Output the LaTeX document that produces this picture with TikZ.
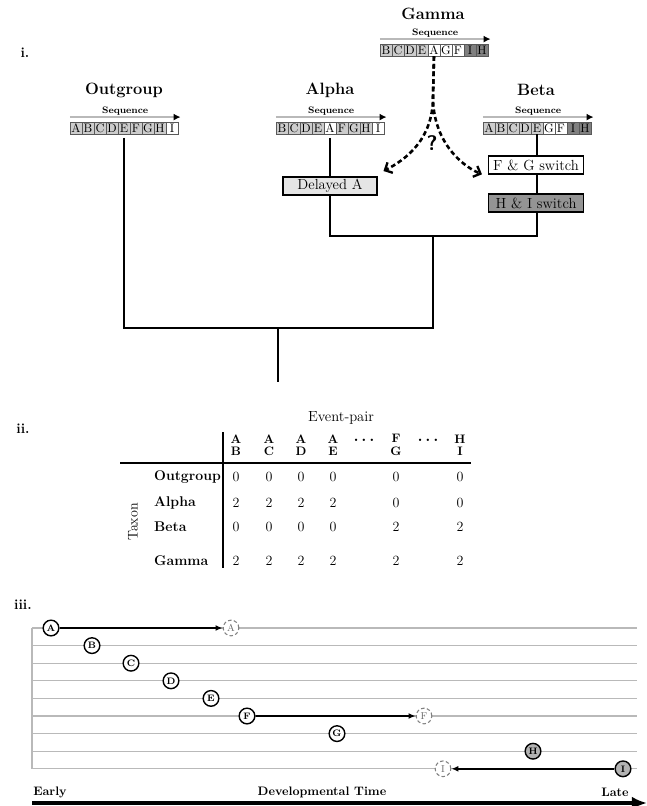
\documentclass[tikz,border=0pt]{standalone}
\usetikzlibrary{arrows.meta}
\definecolor{lightcell}{gray}{0.80}
\definecolor{darkcell}{gray}{0.50}
\definecolor{lightbox}{gray}{0.90}
\definecolor{darkbox}{gray}{0.58}
\tikzset{
    cell/.style={draw=black!65, inner sep=0pt, minimum width=0.36cm, minimum height=0.36cm, font=\fontsize{10.5}{10.5}\selectfont},
    title/.style={font=\fontsize{14}{14}\selectfont\bfseries},
    seqlabel/.style={font=\fontsize{8}{8}\selectfont\bfseries, inner sep=1pt},
    seqarrow/.style={draw=gray!55, line width=1.3pt, -{Latex[black,length=6pt,width=6pt]}},
    branch/.style={line width=2.4pt},
    event/.style={draw, line width=1.3pt, minimum width=2.85cm, minimum height=0.54cm, inner sep=1pt, font=\fontsize{12.5}{12.5}\selectfont},
    maybe/.style={line width=2.2pt, dash pattern=on 4pt off 2.5pt, -{Straight Barb[length=5pt,width=10pt,line width=2pt]}},
    panel/.style={font=\fontsize{12}{12}\selectfont\bfseries},
    colhead/.style={align=center, font=\fontsize{10.5}{10.5}\selectfont\bfseries},
    rowhead/.style={anchor=west, font=\fontsize{12}{12}\selectfont\bfseries},
    val/.style={font=\fontsize{12}{12}\selectfont},
    ev/.style={circle, draw, fill=white, line width=1.2pt, minimum size=0.47cm, inner sep=0pt, font=\fontsize{8}{8}\selectfont\bfseries},
    ghost/.style={ev, draw=gray, densely dashed, line width=0.9pt, text=gray!80!black, font=\fontsize{8.5}{8.5}\selectfont},
    late/.style={ev, fill=gray!60},
    timeline/.style={draw=gray!55, line width=1pt},
    moved/.style={line width=1.6pt, -{Latex[length=6pt,width=5pt]}},
    axis/.style={font=\fontsize{10.5}{10.5}\selectfont\bfseries}
}
\begin{document}
\begin{tikzpicture}[x=0.03cm, y=-0.03cm]
    \useasboundingbox (0,0) rectangle (647,806);

    % i. tree
    \node[panel] (p1) at (25,53) {i.};
    \node[title] (ogtitle) at (124,90) {Outgroup};
    \node[title] (altitle) at (330,90) {Alpha};
    \node[title] (betitle) at (536,90) {Beta};
    \node[title] (gatitle) at (433,14) {Gamma};

    \foreach \l/\f [count=\i] in {A/lightcell,B/lightcell,C/lightcell,D/lightcell,E/lightcell,F/lightcell,G/lightcell,H/lightcell,I/white}
        \node[cell, fill=\f] (og\i) at (64+12*\i,128) {\l};
    \foreach \l/\f [count=\i] in {B/lightcell,C/lightcell,D/lightcell,E/lightcell,A/white,F/lightcell,G/lightcell,H/lightcell,I/white}
        \node[cell, fill=\f] (al\i) at (270+12*\i,128) {\l};
    \foreach \l/\f [count=\i] in {A/lightcell,B/lightcell,C/lightcell,D/lightcell,E/lightcell,G/white,F/white,I/darkcell,H/darkcell}
        \node[cell, fill=\f] (be\i) at (477+12*\i,128) {\l};
    \foreach \l/\f [count=\i] in {B/lightcell,C/lightcell,D/lightcell,E/lightcell,A/white,G/white,F/white,I/darkcell,H/darkcell}
        \node[cell, fill=\f] (ga\i) at (374+12*\i,50) {\l};

    \foreach \s in {og,al,be,ga}
        \draw[seqarrow] ([yshift=4pt]\s1.north west) -- ([yshift=4pt,xshift=2pt]\s9.north east)
            node[midway, above, seqlabel] {Sequence};

    \coordinate (ab) at (433,236);
    \coordinate (top) at (278,328);
    \coordinate (root) at (278,382);

    \draw[branch, shorten <=3pt] (al5.south) |- (ab) -| (be5.south);
    \draw[branch, shorten <=3pt] (og5.south) |- (top) -- (root);
    \draw[branch] (top) -| (ab);

    \node[event, fill=lightbox, minimum width=2.82cm] (delay) at (330,186) {Delayed A};
    \node[event, fill=white] (fg) at (536,165) {F \& G switch};
    \node[event, fill=darkbox] (hi) at (536,203) {H \& I switch};

    \coordinate (split) at (433,97);
    \draw[maybe, shorten >=1pt] (ga5.south) -- (split) .. controls (433,140) and (405,160) .. ([xshift=4pt,yshift=4pt]delay.north east);
    \draw[maybe, shorten >=1pt] (ga5.south) -- (split) .. controls (433,140) and (460,165) .. ([xshift=-4pt]fg.south west);
    \node[font=\fontsize{18}{18}\selectfont\bfseries\sffamily] (q) at (432,143) {?};

    % ii. event-pair table
    \node[panel] (p2) at (23,429) {ii.};
    \node[font=\fontsize{12.5}{12.5}\selectfont] (evpair) at (341,418) {Event-pair};
    \draw[line width=1.2pt] (223,432) -- (223,568);
    \draw[line width=1.6pt] (120,463) -- (471,463);
    \foreach \a/\b/\x in {A/B/236,A/C/269,A/D/301,A/E/333,F/G/396,H/I/460}
        \node[colhead] at (\x,445) {\a\\\b};
    \node[font=\fontsize{14}{14}\selectfont\bfseries] (dots1) at (364,440) {.\,.\,.};
    \node[font=\fontsize{14}{14}\selectfont\bfseries] (dots2) at (428,440) {.\,.\,.};
    \node[rotate=90, font=\fontsize{12}{12}\selectfont] (taxon) at (133,522) {Taxon};
    \foreach \n/\y in {Outgroup/477,Alpha/503,Beta/527,Gamma/561}
        \node[rowhead] at (150,\y) {\n};
    \foreach \y/\vals in {477/{0,0,0,0,0,0},503/{2,2,2,2,0,0},527/{0,0,0,0,2,2},561/{2,2,2,2,2,2}}
        \foreach \v [count=\c] in \vals {
            \pgfmathsetmacro\colx{{236,269,301,333,396,460}[\c-1]}
            \node[val] at (\colx,\y) {\v};
        }

    % iii. timeline
    \node[panel] (p3) at (23,605) {iii.};
    \foreach \k in {0,...,8}
        \draw[timeline] (32,628+17.6*\k) -- (637,628+17.6*\k);
    \draw[timeline] (32,628) -- (32,768.8);

    \foreach \l/\x [count=\k] in {A/51,B/92,C/131,D/171,E/211,F/247,G/337}
        \node[ev] (e\l) at (\x,610.4+17.6*\k) {\l};
    \node[late] (eH) at (533,751.2) {H};
    \node[late] (eI) at (623,768.8) {I};

    \node[ghost] (gA) at (231,628) {A};
    \node[ghost] (gF) at (424,716) {F};
    \node[ghost] (gI) at (443,768.8) {I};

    \draw[moved] (eA) -- (gA);
    \draw[moved] (eF) -- (gF);
    \draw[moved] (eI) -- (gI);

    \node[axis] (early) at (50,792) {Early};
    \node[axis] (devtime) at (322,792) {Developmental Time};
    \node[axis] (late) at (615,792) {Late};
    \coordinate (t0) at (32,803);
    \coordinate (t1) at (647,803);
    \draw[line width=3pt, -{Latex[length=13pt,width=11pt]}] (t0) -- (t1);
\end{tikzpicture}
\end{document}
